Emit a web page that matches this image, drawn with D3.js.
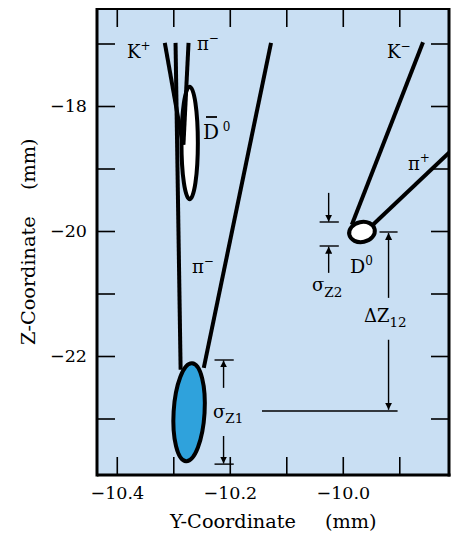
<!DOCTYPE html>
<html><head><meta charset="utf-8">
<script src="https://cdn.jsdelivr.net/npm/d3@7"></script>
<style>body{margin:0;background:#fff} text{font-family:"DejaVu Serif",serif;}</style>
</head><body><svg id="c" width="455" height="537"></svg>
<script>
// ---- data (mm) ----
const xDomain = [-10.435, -9.812];
const yDomain = [-23.904, -16.448];
const xTicks = [-10.4, -10.3, -10.2, -10.1, -10.0, -9.9];
const xTickLabels = ["\u221210.4", "", "\u221210.2", "", "\u221210.0", ""];
const yTicks = [-17, -18, -19, -20, -21, -22, -23];
const yTickLabels = ["", "\u221218", "", "\u221220", "", "\u221222", ""];

const trackNames = ["K+ (D\u03050)", "\u03c0- (D\u03050)", "\u03c0- long", "track R", "K-", "\u03c0+"];
const trackY1 = [-10.315, -10.273, -10.296, -10.127, -9.858, -9.811];
const trackZ1 = [-16.99, -16.99, -16.99, -16.99, -16.98, -18.74];
const trackY2 = [-10.283, -10.282, -10.287, -10.246, -9.984, -9.949];
const trackZ2 = [-18.62, -18.62, -22.22, -22.19, -19.90, -19.92];

const vertexNames = ["D\u03050", "primary", "D0"];
const vertexY = [-10.271, -10.272, -9.966];
const vertexZ = [-18.59, -22.90, -20.016];
const vertexSigY = [0.0145, 0.0274, 0.023];
const vertexSigZ = [0.90, 0.784, 0.16];
const vertexTilt = [0, 3.5, -12];
const vertexFill = ["#ffffff", "#2fa2dc", "#ffffff"];

// ---- setup ----
const svg = d3.select("#c");
const x = d3.scaleLinear().domain(xDomain).range([97, 449]);
const y = d3.scaleLinear().domain(yDomain).range([475, 9]);
const BG = "#c9dff3";

svg.append("rect").attr("x", x(xDomain[0])).attr("y", y(yDomain[1]))
  .attr("width", x(xDomain[1]) - x(xDomain[0])).attr("height", y(yDomain[0]) - y(yDomain[1]))
  .attr("fill", BG);

svg.append("defs").append("clipPath").attr("id", "clip").append("rect")
  .attr("x", x(xDomain[0])).attr("y", y(yDomain[1]))
  .attr("width", x(xDomain[1]) - x(xDomain[0])).attr("height", y(yDomain[0]) - y(yDomain[1]));

const defs = svg.select("defs");
defs.append("marker").attr("id", "ah").attr("viewBox", "0 0 10 10").attr("refX", 10).attr("refY", 5)
  .attr("markerWidth", 7).attr("markerHeight", 7).attr("markerUnits", "userSpaceOnUse").attr("orient", "auto")
  .append("path").attr("d", "M0,0 L10,5 L0,10 z").attr("fill", "#000");

// axes
function styleAxis(g) {
  g.select(".domain").remove();
  g.selectAll(".tick line").attr("stroke", "#000").attr("stroke-width", 1.6);
  g.selectAll(".tick text").attr("font-family", "DejaVu Serif").attr("font-size", 17.5).attr("fill", "#000");
}
svg.append("g").attr("transform", `translate(0,${y(yDomain[0])})`)
  .call(d3.axisBottom(x).tickValues(xTicks).tickSize(-18).tickPadding(12)
    .tickFormat((d, i) => xTickLabels[i])).call(styleAxis);
svg.append("g").attr("transform", `translate(0,${y(yDomain[1])})`)
  .call(d3.axisTop(x).tickValues(xTicks).tickSize(-18).tickFormat("")).call(styleAxis);
svg.append("g").attr("transform", `translate(${x(xDomain[0])},0)`)
  .call(d3.axisLeft(y).tickValues(yTicks).tickSize(-18).tickPadding(10)
    .tickFormat((d, i) => yTickLabels[i])).call(styleAxis);
svg.append("g").attr("transform", `translate(${x(xDomain[1])},0)`)
  .call(d3.axisRight(y).tickValues(yTicks).tickSize(-18).tickFormat("")).call(styleAxis);

// frame
const X0 = x(xDomain[0]), X1 = x(xDomain[1]), Y0 = y(yDomain[0]), Y1 = y(yDomain[1]);
svg.append("line").attr("x1", X0).attr("x2", X1 + 1.5).attr("y1", Y0).attr("y2", Y0).attr("stroke", "#000").attr("stroke-width", 3);
svg.append("line").attr("x1", X0).attr("x2", X0).attr("y1", Y1 - 1).attr("y2", Y0 + 1.5).attr("stroke", "#000").attr("stroke-width", 3);
svg.append("line").attr("x1", X1).attr("x2", X1).attr("y1", Y1 - 1).attr("y2", Y0 + 1.5).attr("stroke", "#000").attr("stroke-width", 3);
svg.append("line").attr("x1", X0).attr("x2", X1).attr("y1", Y1).attr("y2", Y1).attr("stroke", "#000").attr("stroke-width", 2);

// plot layer
const plot = svg.append("g").attr("clip-path", "url(#clip)");

function drawVertices(idx) {
  plot.selectAll(null).data(idx).join("ellipse")
    .attr("cx", 0).attr("cy", 0)
    .attr("rx", i => x(vertexY[i] + vertexSigY[i]) - x(vertexY[i]))
    .attr("ry", i => y(vertexZ[i]) - y(vertexZ[i] + vertexSigZ[i]))
    .attr("transform", i => `translate(${x(vertexY[i])},${y(vertexZ[i])}) rotate(${vertexTilt[i]})`)
    .attr("fill", i => vertexFill[i]).attr("stroke", "#000").attr("stroke-width", 4);
}
// D-bar vertex ellipse sits under its tracks
drawVertices([0]);

// tracks
plot.selectAll("line.trk").data(trackNames).join("line").attr("class", "trk")
  .attr("x1", (d, i) => x(trackY1[i])).attr("y1", (d, i) => y(trackZ1[i]))
  .attr("x2", (d, i) => x(trackY2[i])).attr("y2", (d, i) => y(trackZ2[i]))
  .attr("stroke", "#000").attr("stroke-width", 4);

drawVertices([1, 2]);

// annotations (dimension lines)
const ann = svg.append("g").attr("stroke", "#000").attr("stroke-width", 1.4);
function hline(ya, xa, xb) { ann.append("line").attr("x1", x(xa)).attr("x2", x(xb)).attr("y1", y(ya)).attr("y2", y(ya)); }
function arrow(xa, yFrom, yTo) {
  ann.append("line").attr("x1", x(xa)).attr("x2", x(xa)).attr("y1", y(yFrom)).attr("y2", y(yTo)).attr("marker-end", "url(#ah)");
}
// sigma Z1
hline(-22.064, -10.227, -10.193);
hline(-23.73, -10.227, -10.193);
arrow(-10.211, -22.51, -22.07);
arrow(-10.211, -23.28, -23.72);
// sigma Z2
hline(-19.856, -10.041, -10.007);
hline(-20.24, -10.041, -10.007);
arrow(-10.025, -19.39, -19.85);
arrow(-10.025, -20.67, -20.25);
// Delta Z12
hline(-20.016, -9.935, -9.903);
hline(-22.88, -10.143, -9.903);
arrow(-9.919, -21.07, -20.03);
arrow(-9.919, -21.74, -22.86);

// labels
const lab = svg.append("g").attr("font-family", "DejaVu Serif").attr("fill", "#000");
function label(px, py, parts, fs) {
  const t = lab.append("text").attr("x", px).attr("y", py).attr("font-size", fs || 18);
  parts.forEach(p => {
    const s = t.append("tspan").text(p.t);
    if (p.sup) s.attr("font-size", 12).attr("dy", -8);
    if (p.sub) s.attr("font-size", 13.5).attr("dy", p.dy || 5);
  });
  return t;
}
label(127, 58, [{t: "K"}, {t: "+", sup: 1}]);
label(197, 50, [{t: "\u03c0"}, {t: "\u2212", sup: 1}]);
label(192, 273, [{t: "\u03c0"}, {t: "\u2212", sup: 1}]);
label(387, 58, [{t: "K"}, {t: "\u2212", sup: 1}]);
label(408, 170, [{t: "\u03c0"}, {t: "+", sup: 1}]);
label(350, 273, [{t: "D"}, {t: "0", sup: 1}], 19);
// D-bar 0
label(203, 139, [{t: "D"}, {t: " 0", sup: 1}], 20);
lab.append("line").attr("x1", 206).attr("x2", 217).attr("y1", 117).attr("y2", 117).attr("stroke", "#000").attr("stroke-width", 1.8);
label(312, 291, [{t: "\u03c3"}, {t: "Z2", sub: 1, dy: 6}]);
label(364, 322, [{t: "\u0394Z"}, {t: "12", sub: 1, dy: 5}]);
label(213, 418, [{t: "\u03c3"}, {t: "Z1", sub: 1, dy: 5}]);

// axis titles
lab.append("text").attr("x", 170).attr("y", 528).attr("font-size", 19.3).text("Y-Coordinate");
lab.append("text").attr("x", 325).attr("y", 528).attr("font-size", 19.3).text("(mm)");
lab.append("text").attr("transform", "translate(35,345) rotate(-90)").attr("font-size", 19.3).text("Z-Coordinate");
lab.append("text").attr("transform", "translate(35,190) rotate(-90)").attr("font-size", 19.3).text("(mm)");
</script></body></html>
